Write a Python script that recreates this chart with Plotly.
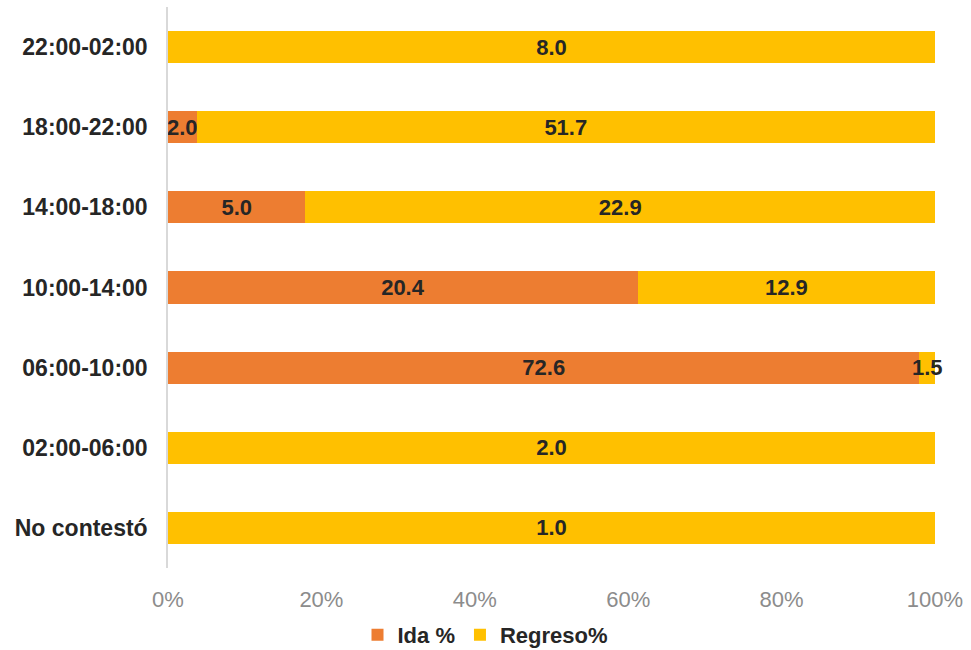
import plotly.graph_objects as go

# Franjas horarias (de arriba hacia abajo)
franjas = ["22:00-02:00", "18:00-22:00", "14:00-18:00", "10:00-14:00",
           "06:00-10:00", "02:00-06:00", "No contestó"]
ida = [0, 2.0, 5.0, 20.4, 72.6, 0, 0]
regreso = [8.0, 51.7, 22.9, 12.9, 1.5, 2.0, 1.0]
x_ticks = [0, 20, 40, 60, 80, 100]
x_tick_labels = ["0%", "20%", "40%", "60%", "80%", "100%"]

FONT = "Liberation Sans"
DARK = "#262626"


def etiquetas(vals):
    return ["" if v == 0 else f"{v:.1f}" for v in vals]


fig = go.Figure()
for nombre, vals, color in [("Ida %", ida, "#ED7D31"),
                            ("Regreso%", regreso, "#FFC000")]:
    fig.add_trace(go.Bar(
        y=franjas, x=vals, orientation="h", name=nombre,
        marker=dict(color=color, line=dict(width=0)),
        text=etiquetas(vals), textposition="inside", insidetextanchor="middle",
        textangle=0, constraintext="none", cliponaxis=False,
        textfont=dict(family=FONT, size=22, color=DARK, weight="bold"),
        hoverinfo="skip",
    ))

fig.update_layout(
    width=971, height=650,
    barmode="stack", barnorm="percent", bargap=0.6,
    plot_bgcolor="white", paper_bgcolor="white",
    margin=dict(l=168, r=36, t=7, b=82),
    uniformtext=dict(minsize=22, mode="show"),
    showlegend=True,
    legend=dict(
        orientation="h", xref="container", x=0.5, xanchor="center",
        yref="container", y=0.023, yanchor="middle",
        font=dict(family=FONT, size=22, color=DARK, weight="bold"),
        itemwidth=30, traceorder="normal",
    ),
    xaxis=dict(
        range=[0, 100], tickvals=x_ticks, ticktext=x_tick_labels,
        showgrid=False, zeroline=False, showline=False, automargin=False,
        tickfont=dict(family=FONT, size=22, color="#8C8C8C"),
        ticks="", ticklabelstandoff=16,
    ),
    yaxis=dict(
        autorange="reversed", showgrid=False, zeroline=False, automargin=False,
        showline=True, linecolor="#D9D9D9", linewidth=1.5,
        ticks="", ticklabelstandoff=14,
        tickfont=dict(family=FONT, size=23, color=DARK, weight="bold"),
    ),
)

fig.write_html("out.html")
